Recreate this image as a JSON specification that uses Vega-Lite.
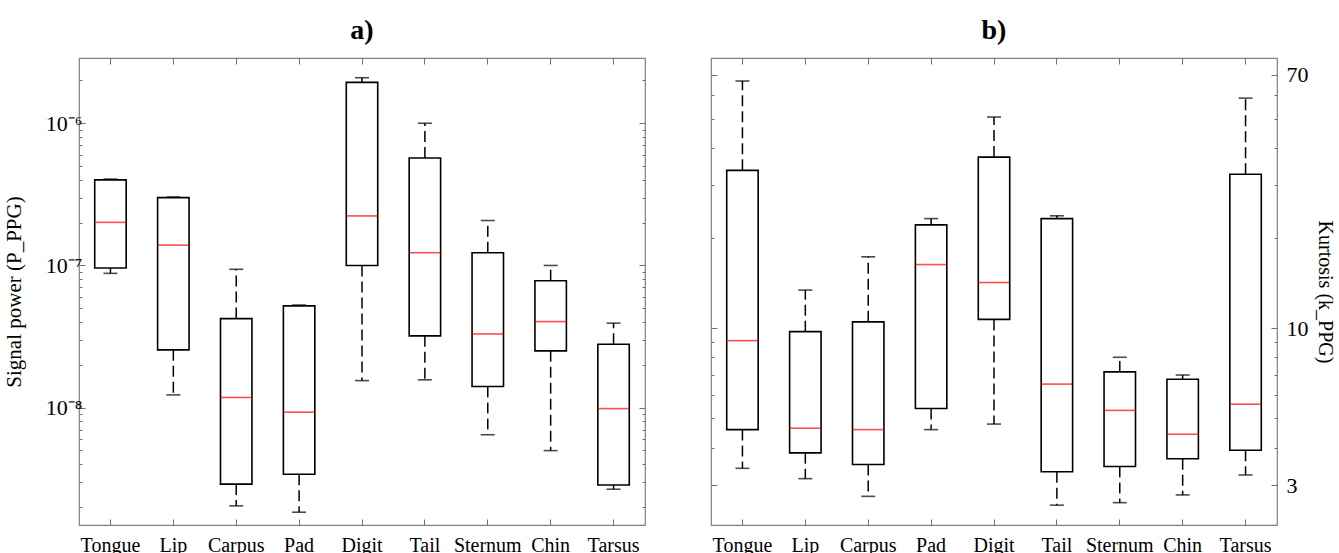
{
  "$schema": "https://vega.github.io/schema/vega-lite/v6.json",
  "padding": {"left": 2, "top": 15, "right": 0, "bottom": 0},
  "spacing": 62,
  "datasets": {
    "power": [
      {"site": "Tongue", "min": 8.8e-8, "q1": 9.6e-8, "median": 2.01e-7, "q3": 4.0e-7, "max": 4.05e-7},
      {"site": "Lip", "min": 1.23e-8, "q1": 2.55e-8, "median": 1.39e-7, "q3": 3.0e-7, "max": 3.03e-7},
      {"site": "Carpus", "min": 2.04e-9, "q1": 2.9e-9, "median": 1.18e-8, "q3": 4.23e-8, "max": 9.4e-8},
      {"site": "Pad", "min": 1.84e-9, "q1": 3.4e-9, "median": 9.3e-9, "q3": 5.2e-8, "max": 5.27e-8},
      {"site": "Digit", "min": 1.55e-8, "q1": 1.0e-7, "median": 2.23e-7, "q3": 1.94e-6, "max": 2.09e-6},
      {"site": "Tail", "min": 1.57e-8, "q1": 3.2e-8, "median": 1.23e-7, "q3": 5.7e-7, "max": 1.0e-6},
      {"site": "Sternum", "min": 6.45e-9, "q1": 1.41e-8, "median": 3.3e-8, "q3": 1.23e-7, "max": 2.07e-7},
      {"site": "Chin", "min": 4.99e-9, "q1": 2.51e-8, "median": 4.03e-8, "q3": 7.81e-8, "max": 1.0e-7},
      {"site": "Tarsus", "min": 2.67e-9, "q1": 2.86e-9, "median": 9.85e-9, "q3": 2.79e-8, "max": 3.93e-8}
    ],
    "kurt": [
      {"site": "Tongue", "min": 3.41, "q1": 4.59, "median": 9.09, "q3": 33.6, "max": 66.7},
      {"site": "Lip", "min": 3.15, "q1": 3.84, "median": 4.64, "q3": 9.74, "max": 13.4},
      {"site": "Carpus", "min": 2.75, "q1": 3.51, "median": 4.59, "q3": 10.5, "max": 17.3},
      {"site": "Pad", "min": 4.59, "q1": 5.4, "median": 16.3, "q3": 22.1, "max": 23.2},
      {"site": "Digit", "min": 4.79, "q1": 10.7, "median": 14.2, "q3": 37.2, "max": 50.6},
      {"site": "Tail", "min": 2.57, "q1": 3.32, "median": 6.51, "q3": 23.2, "max": 23.7},
      {"site": "Sternum", "min": 2.62, "q1": 3.46, "median": 5.32, "q3": 7.15, "max": 8.0},
      {"site": "Chin", "min": 2.78, "q1": 3.67, "median": 4.43, "q3": 6.76, "max": 6.98},
      {"site": "Tarsus", "min": 3.24, "q1": 3.92, "median": 5.58, "q3": 32.6, "max": 58.5}
    ]
  },
  "hconcat": [
    {
      "width": 566,
      "height": 467,
      "title": {"text": "a)", "fontSize": 28, "font": "Liberation Serif", "fontWeight": "bold", "anchor": "middle", "baseline": "alphabetic", "offset": -9, "color": "#000000"},
      "data": {"name": "power"},
      "resolve": {"axis": {"x": "independent", "y": "independent"}},
      "layer": [
        {
          "mark": {"type": "rule", "color": "#000000", "strokeWidth": 1.5, "strokeDash": [11, 5]},
          "encoding": {
            "x": {"field": "site", "type": "nominal", "sort": ["Tongue", "Lip", "Carpus", "Pad", "Digit", "Tail", "Sternum", "Chin", "Tarsus"], "scale": {"paddingInner": 0, "paddingOuter": 0},
              "axis": {"orient": "bottom", "title": null, "labelAngle": 0, "labelFontSize": 20, "tickSize": -6, "labelPadding": 16}},
            "y": {"field": "q3", "type": "quantitative", "scale": {"type": "log", "domain": [1.496e-9, 2.877e-6], "nice": false},
              "axis": {"orient": "left", "title": "Signal power (P_PPG)", "titleFontSize": 21, "titlePadding": 21, "values": [1e-8, 1e-7, 1e-6], "labelExpr": "datum.value < 5e-8 ? '10⁻⁸' : (datum.value < 5e-7 ? '10⁻⁷' : '10⁻⁶')", "labelFontSize": 22, "tickSize": -6, "labelPadding": 3}},
            "y2": {"field": "max"}
          }
        },
        {
          "mark": {"type": "rule", "color": "#000000", "strokeWidth": 1.5, "strokeDash": [11, 5]},
          "encoding": {
            "x": {"field": "site", "type": "nominal", "sort": ["Tongue", "Lip", "Carpus", "Pad", "Digit", "Tail", "Sternum", "Chin", "Tarsus"], "scale": {"paddingInner": 0, "paddingOuter": 0},
              "axis": {"orient": "top", "title": null, "labels": false, "tickSize": -6}},
            "y": {"field": "q1", "type": "quantitative", "scale": {"type": "log", "domain": [1.496e-9, 2.877e-6], "nice": false},
              "axis": {"orient": "left", "title": null, "labels": false, "tickSize": -3, "values": [2e-9, 3e-9, 4e-9, 5e-9, 6e-9, 7e-9, 8e-9, 9e-9, 2e-8, 3e-8, 4e-8, 5e-8, 6e-8, 7e-8, 8e-8, 9e-8, 2e-7, 3e-7, 4e-7, 5e-7, 6e-7, 7e-7, 8e-7, 9e-7, 2e-6]}},
            "y2": {"field": "min"}
          }
        },
        {
          "mark": {"type": "bar", "fill": "#ffffff", "stroke": "#000000", "strokeWidth": 1.6, "width": {"band": 0.5}},
          "encoding": {
            "x": {"field": "site", "type": "nominal", "sort": ["Tongue", "Lip", "Carpus", "Pad", "Digit", "Tail", "Sternum", "Chin", "Tarsus"], "axis": null},
            "y": {"field": "q1", "type": "quantitative", "scale": {"type": "log", "domain": [1.496e-9, 2.877e-6], "nice": false},
              "axis": {"orient": "right", "title": null, "labels": false, "tickSize": -6, "values": [1e-8, 1e-7, 1e-6]}},
            "y2": {"field": "q3"}
          }
        },
        {
          "mark": {"type": "tick", "color": "#ff0000", "thickness": 1.6, "size": 31},
          "encoding": {
            "x": {"field": "site", "type": "nominal", "sort": ["Tongue", "Lip", "Carpus", "Pad", "Digit", "Tail", "Sternum", "Chin", "Tarsus"], "axis": null},
            "y": {"field": "median", "type": "quantitative", "scale": {"type": "log", "domain": [1.496e-9, 2.877e-6], "nice": false},
              "axis": {"orient": "right", "title": null, "labels": false, "tickSize": -3, "values": [2e-9, 3e-9, 4e-9, 5e-9, 6e-9, 7e-9, 8e-9, 9e-9, 2e-8, 3e-8, 4e-8, 5e-8, 6e-8, 7e-8, 8e-8, 9e-8, 2e-7, 3e-7, 4e-7, 5e-7, 6e-7, 7e-7, 8e-7, 9e-7, 2e-6]}}
          }
        },
        {
          "mark": {"type": "tick", "color": "#000000", "thickness": 1.6, "size": 14},
          "encoding": {
            "x": {"field": "site", "type": "nominal", "sort": ["Tongue", "Lip", "Carpus", "Pad", "Digit", "Tail", "Sternum", "Chin", "Tarsus"], "axis": null},
            "y": {"field": "max", "type": "quantitative", "scale": {"type": "log", "domain": [1.496e-9, 2.877e-6], "nice": false}, "axis": null}
          }
        },
        {
          "mark": {"type": "tick", "color": "#000000", "thickness": 1.6, "size": 14},
          "encoding": {
            "x": {"field": "site", "type": "nominal", "sort": ["Tongue", "Lip", "Carpus", "Pad", "Digit", "Tail", "Sternum", "Chin", "Tarsus"], "axis": null},
            "y": {"field": "min", "type": "quantitative", "scale": {"type": "log", "domain": [1.496e-9, 2.877e-6], "nice": false}, "axis": null}
          }
        }
      ]
    },
    {
      "width": 566,
      "height": 467,
      "title": {"text": "b)", "fontSize": 28, "font": "Liberation Serif", "fontWeight": "bold", "anchor": "middle", "baseline": "alphabetic", "offset": -9, "color": "#000000"},
      "data": {"name": "kurt"},
      "resolve": {"axis": {"x": "independent", "y": "independent"}},
      "layer": [
        {
          "mark": {"type": "rule", "color": "#000000", "strokeWidth": 1.5, "strokeDash": [11, 5]},
          "encoding": {
            "x": {"field": "site", "type": "nominal", "sort": ["Tongue", "Lip", "Carpus", "Pad", "Digit", "Tail", "Sternum", "Chin", "Tarsus"], "scale": {"paddingInner": 0, "paddingOuter": 0},
              "axis": {"orient": "bottom", "title": null, "labelAngle": 0, "labelFontSize": 20, "tickSize": -6, "labelPadding": 16}},
            "y": {"field": "q3", "type": "quantitative", "scale": {"type": "log", "domain": [2.207, 79.6], "nice": false},
              "axis": {"orient": "right", "title": "Kurtosis (k_PPG)", "titleFontSize": 20, "titlePadding": 6, "values": [3, 10, 70], "format": "d", "labelFontSize": 22, "tickSize": -6, "labelPadding": 15}},
            "y2": {"field": "max"}
          }
        },
        {
          "mark": {"type": "rule", "color": "#000000", "strokeWidth": 1.5, "strokeDash": [11, 5]},
          "encoding": {
            "x": {"field": "site", "type": "nominal", "sort": ["Tongue", "Lip", "Carpus", "Pad", "Digit", "Tail", "Sternum", "Chin", "Tarsus"], "scale": {"paddingInner": 0, "paddingOuter": 0},
              "axis": {"orient": "top", "title": null, "labels": false, "tickSize": -6}},
            "y": {"field": "q1", "type": "quantitative", "scale": {"type": "log", "domain": [2.207, 79.6], "nice": false},
              "axis": {"orient": "right", "title": null, "labels": false, "tickSize": -3, "values": [4, 5, 6, 7, 8, 9, 20, 30, 40, 50, 60]}},
            "y2": {"field": "min"}
          }
        },
        {
          "mark": {"type": "bar", "fill": "#ffffff", "stroke": "#000000", "strokeWidth": 1.6, "width": {"band": 0.5}},
          "encoding": {
            "x": {"field": "site", "type": "nominal", "sort": ["Tongue", "Lip", "Carpus", "Pad", "Digit", "Tail", "Sternum", "Chin", "Tarsus"], "axis": null},
            "y": {"field": "q1", "type": "quantitative", "scale": {"type": "log", "domain": [2.207, 79.6], "nice": false},
              "axis": {"orient": "left", "title": null, "labels": false, "tickSize": -6, "values": [3, 10, 70]}},
            "y2": {"field": "q3"}
          }
        },
        {
          "mark": {"type": "tick", "color": "#ff0000", "thickness": 1.6, "size": 31},
          "encoding": {
            "x": {"field": "site", "type": "nominal", "sort": ["Tongue", "Lip", "Carpus", "Pad", "Digit", "Tail", "Sternum", "Chin", "Tarsus"], "axis": null},
            "y": {"field": "median", "type": "quantitative", "scale": {"type": "log", "domain": [2.207, 79.6], "nice": false},
              "axis": {"orient": "left", "title": null, "labels": false, "tickSize": -3, "values": [4, 5, 6, 7, 8, 9, 20, 30, 40, 50, 60]}}
          }
        },
        {
          "mark": {"type": "tick", "color": "#000000", "thickness": 1.6, "size": 14},
          "encoding": {
            "x": {"field": "site", "type": "nominal", "sort": ["Tongue", "Lip", "Carpus", "Pad", "Digit", "Tail", "Sternum", "Chin", "Tarsus"], "axis": null},
            "y": {"field": "max", "type": "quantitative", "scale": {"type": "log", "domain": [2.207, 79.6], "nice": false}, "axis": null}
          }
        },
        {
          "mark": {"type": "tick", "color": "#000000", "thickness": 1.6, "size": 14},
          "encoding": {
            "x": {"field": "site", "type": "nominal", "sort": ["Tongue", "Lip", "Carpus", "Pad", "Digit", "Tail", "Sternum", "Chin", "Tarsus"], "axis": null},
            "y": {"field": "min", "type": "quantitative", "scale": {"type": "log", "domain": [2.207, 79.6], "nice": false}, "axis": null}
          }
        }
      ]
    }
  ],
  "config": {
    "background": "#ffffff",
    "view": {"stroke": "#808080", "strokeWidth": 1.2},
    "font": "Liberation Serif",
    "axis": {"domain": false, "grid": false, "tickColor": "#707070", "tickWidth": 1, "labelFont": "Liberation Serif", "titleFont": "Liberation Serif", "labelColor": "#000000", "titleColor": "#000000", "titleFontWeight": "normal", "labelOverlap": false}
  }
}
